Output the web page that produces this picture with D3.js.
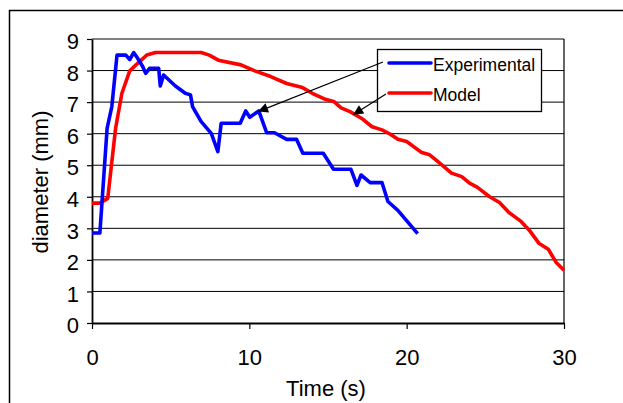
<!DOCTYPE html>
<html>
<head>
<meta charset="utf-8">
<script src="https://cdn.jsdelivr.net/npm/d3@7"></script>
<style>
  body { margin: 0; background: #fff; }
  svg { display: block; font-family: "Liberation Sans", Arial, sans-serif; }
</style>
</head>
<body>
<svg id="chart" width="623" height="403"></svg>
<script>
// experimental data (time s, diameter mm)
const expTime = [0, 0.5, 0.96, 1.26, 1.59, 2.15, 2.4, 2.65, 2.9, 3.23, 3.41, 3.66, 4.24, 4.34, 4.55, 5.3, 5.93, 6.26, 6.39, 6.94, 7.58, 8.0, 8.21, 9.42, 9.77, 10.03, 10.6, 11.1, 11.6, 12.37, 13.0, 13.4, 14.7, 15.35, 16.46, 16.84, 17.1, 17.68, 18.43, 18.81, 19.44, 20.7];
const expDiam = [2.85, 2.85, 6.17, 6.86, 8.49, 8.49, 8.35, 8.57, 8.39, 8.12, 7.91, 8.07, 8.07, 7.51, 7.86, 7.51, 7.28, 7.23, 6.86, 6.38, 6.01, 5.43, 6.33, 6.33, 6.72, 6.52, 6.72, 6.03, 6.03, 5.82, 5.82, 5.38, 5.38, 4.87, 4.87, 4.36, 4.69, 4.45, 4.45, 3.85, 3.57, 2.83];

// model data
const modTime = [0, 0.5, 1.0, 1.5, 1.9, 2.4, 2.9, 3.48, 4.04, 6.94, 7.45, 8.03, 9.47, 10.35, 11.36, 12.37, 13.38, 14.0, 14.77, 15.4, 15.83, 16.4, 17.12, 17.8, 18.43, 18.94, 19.44, 20.0, 20.96, 21.46, 21.97, 22.85, 23.5, 24.0, 24.5, 25.25, 25.9, 26.5, 27.27, 27.78, 28.4, 29.0, 29.5, 30.0];
const modDiam = [3.8, 3.8, 3.95, 6.17, 7.28, 7.99, 8.23, 8.49, 8.57, 8.57, 8.49, 8.33, 8.18, 7.99, 7.81, 7.59, 7.46, 7.28, 7.1, 7.01, 6.82, 6.7, 6.49, 6.22, 6.12, 5.99, 5.82, 5.75, 5.4, 5.33, 5.12, 4.75, 4.64, 4.43, 4.3, 4.01, 3.82, 3.5, 3.22, 2.95, 2.53, 2.34, 1.92, 1.67];

const xTicks = [0, 10, 20, 30];
const yTicks = [0, 1, 2, 3, 4, 5, 6, 7, 8, 9];
const seriesNames = ["Experimental", "Model"];
const seriesColors = ["#0000ff", "#ff0000"];

const svg = d3.select("#chart");

// outer frame (only left and top visible)
svg.append("path")
   .attr("d", "M9.5,403 L9.5,10.5 L623,10.5")
   .attr("fill", "none")
   .attr("stroke", "#000")
   .attr("stroke-width", 1.5);

const x = d3.scaleLinear().domain([0, 30]).range([92, 564]);
const y = d3.scaleLinear().domain([0, 9]).range([323, 39]);

// gridlines
svg.append("g").selectAll("line")
   .data(yTicks.filter(d => d > 0))
   .enter().append("line")
   .attr("x1", x(0)).attr("x2", x(30))
   .attr("y1", d => y(d)).attr("y2", d => y(d))
   .attr("stroke", "#000")
   .attr("stroke-width", 1);

// right border of plot
svg.append("line")
   .attr("x1", x(30)).attr("x2", x(30))
   .attr("y1", y(9)).attr("y2", y(0))
   .attr("stroke", "#000").attr("stroke-width", 1.2);

// axes
const xAxis = svg.append("g")
   .attr("transform", `translate(0,${y(0)})`)
   .call(d3.axisBottom(x).tickValues(xTicks).tickSize(6).tickPadding(20).tickSizeOuter(0));
const yAxis = svg.append("g")
   .attr("transform", `translate(${x(0)},0)`)
   .call(d3.axisLeft(y).tickValues(yTicks).tickSize(5).tickPadding(8).tickSizeOuter(0));

[xAxis, yAxis].forEach(a => {
  a.select(".domain").attr("stroke", "#000").attr("stroke-width", 1.8);
  a.selectAll(".tick line").attr("stroke", "#000").attr("stroke-width", 1.2);
  a.selectAll(".tick text")
   .attr("fill", "#000")
   .style("font-family", '"Liberation Sans", Arial, sans-serif')
   .style("font-size", "22px");
});
yAxis.selectAll(".tick text").attr("dy", "0.44em");

// series
const line = d3.line().x(d => x(d[0])).y(d => y(d[1]));
const expData = expTime.map((t, i) => [t, expDiam[i]]);
const modData = modTime.map((t, i) => [t, modDiam[i]]);

svg.append("path")
   .datum(modData)
   .attr("d", line)
   .attr("fill", "none")
   .attr("stroke", seriesColors[1])
   .attr("stroke-width", 3.6)
   .attr("stroke-linejoin", "round");

svg.append("path")
   .datum(expData)
   .attr("d", line)
   .attr("fill", "none")
   .attr("stroke", seriesColors[0])
   .attr("stroke-width", 3.6)
   .attr("stroke-linejoin", "round");

// axis titles
svg.append("text")
   .attr("x", 326).attr("y", 396)
   .attr("text-anchor", "middle")
   .style("font-size", "22px")
   .text("Time (s)");

svg.append("text")
   .attr("transform", "translate(48,182) rotate(-90)")
   .attr("text-anchor", "middle")
   .style("font-size", "22px")
   .text("diameter (mm)");

// legend
const legend = svg.append("g");
legend.append("rect")
   .attr("x", 377.5).attr("y", 49.5)
   .attr("width", 164).attr("height", 62)
   .attr("fill", "#fff")
   .attr("stroke", "#000")
   .attr("stroke-width", 1.3);

seriesNames.forEach((name, i) => {
  const ly = 63 + i * 30;
  legend.append("line")
     .attr("x1", 389).attr("x2", 431)
     .attr("y1", ly).attr("y2", ly)
     .attr("stroke", seriesColors[i])
     .attr("stroke-width", 3.6)
     .attr("stroke-linecap", "round");
  legend.append("text")
     .attr("x", 433).attr("y", ly + 8)
     .style("font-size", "17.5px")
     .text(name);
});

// arrows pointing from the legend to the curves
svg.append("defs").append("marker")
   .attr("id", "arrow")
   .attr("viewBox", "0 0 10 10")
   .attr("refX", 10).attr("refY", 5)
   .attr("markerWidth", 14).attr("markerHeight", 10)
   .attr("markerUnits", "userSpaceOnUse")
   .attr("orient", "auto")
   .append("path")
   .attr("d", "M0,0 L10,5 L0,10 Z")
   .attr("fill", "#000");

const arrows = [
  { from: [383, 62], to: [x(10.55), y(6.7)] },
  { from: [386, 94], to: [x(16.6), y(6.6)] }
];
svg.append("g").selectAll("line")
   .data(arrows)
   .enter().append("line")
   .attr("x1", d => d.from[0]).attr("y1", d => d.from[1])
   .attr("x2", d => d.to[0]).attr("y2", d => d.to[1])
   .attr("stroke", "#000")
   .attr("stroke-width", 1.2)
   .attr("marker-end", "url(#arrow)");
</script>
</body>
</html>
